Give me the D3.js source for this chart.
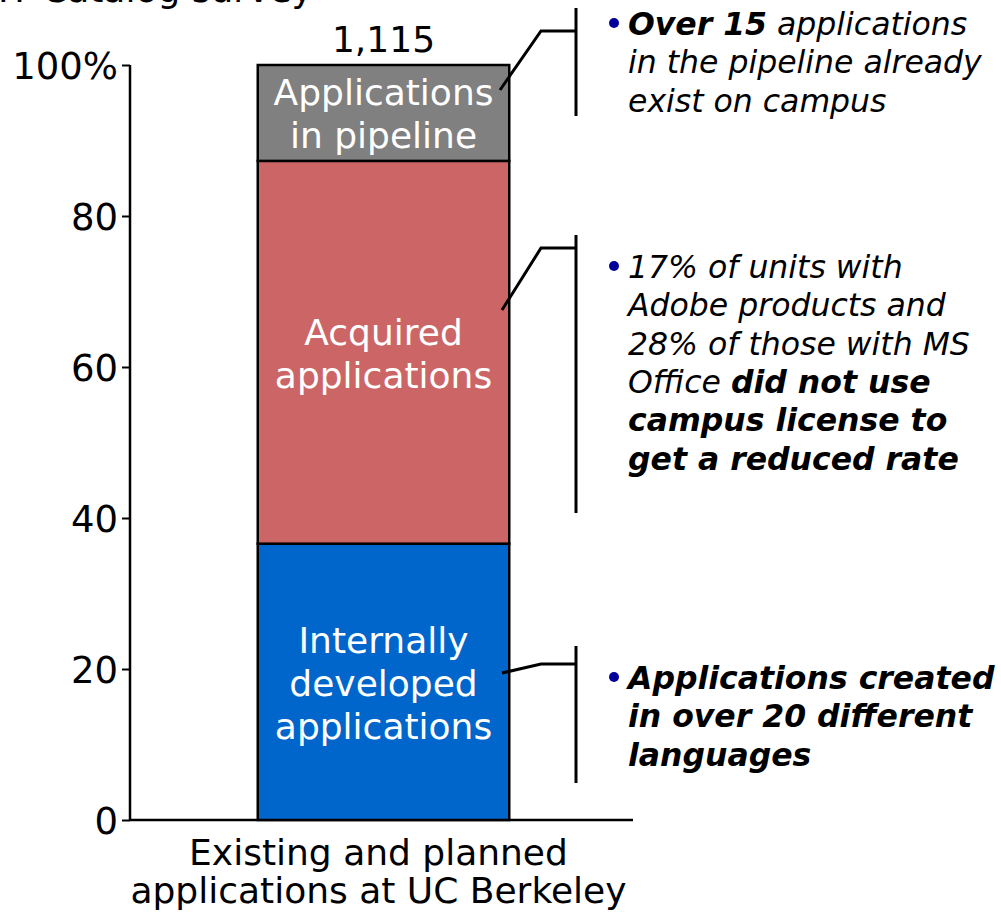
<!doctype html>
<html>
<head>
<meta charset="UTF-8">
<title>Applications at UC Berkeley</title>
<script src="https://d3js.org/d3.v7.min.js"></script>
<style>
  body { margin: 0; background: #fff; }
  text { font-family: "DejaVu Sans", Verdana, sans-serif; }
</style>
</head>
<body>
<script>
// data
var category = "Existing and planned applications at UC Berkeley";
var segNames = ["Internally developed applications", "Acquired applications", "Applications in pipeline"];
var segLines = [["Internally", "developed", "applications"], ["Acquired", "applications"], ["Applications", "in pipeline"]];
var shares = [36.6, 50.7, 12.7];
var segColors = ["#0066cc", "#cc6666", "#808080"];
var total = 1115;
var yTicks = [0, 20, 40, 60, 80, 100];
var source = "IT Catalog survey";

// callout notes, one per segment; [text, bold?]
var notes = [
  [[["Applications created", 1]], [["in over 20 different", 1]], [["languages", 1]]],
  [[["17% of units with", 0]], [["Adobe products and", 0]], [["28% of those with MS", 0]],
   [["Office ", 0], ["did not use", 1]], [["campus license to", 1]], [["get a reduced rate", 1]]],
  [[["Over 15", 1], [" applications", 0]], [["in the pipeline already", 0]], [["exist on campus", 0]]]
];

var W = 1001, H = 913;
var svg = d3.select("body").append("svg").attr("width", W).attr("height", H);

var y = d3.scaleLinear().domain([0, 100]).range([820, 65]);
var x = d3.scaleBand().domain([category]).range([132, 635]).paddingInner(0).paddingOuter(0.5);

// y axis
var yAxis = svg.append("g").attr("transform", "translate(130,0)")
  .call(d3.axisLeft(y).tickValues(yTicks).tickSize(8).tickPadding(4)
    .tickFormat(function(d){ return d == 100 ? "100%" : d; }));
yAxis.select(".domain").attr("stroke", "#000").attr("stroke-width", 2.5).attr("d", "M0," + y(100) + "V" + y(0));
yAxis.selectAll(".tick line").attr("stroke", "#000").attr("stroke-width", 2);
yAxis.selectAll(".tick text").attr("font-size", 37).attr("fill", "#000")
  .attr("font-family", "'DejaVu Sans Condensed', 'DejaVu Sans', sans-serif").attr("dy", "0.36em");

// x axis line
svg.append("line").attr("x1", 130).attr("x2", 633).attr("y1", y(0)).attr("y2", y(0))
  .attr("stroke", "#000").attr("stroke-width", 2.5);

// stacked bar
var stack = [];
var acc = 0;
shares.forEach(function(v, i){ stack.push({i: i, y0: acc, y1: acc + v}); acc += v; });

var bx = x(category), bw = x.bandwidth();
svg.selectAll("rect.seg").data(stack).enter().append("rect")
  .attr("class", "seg")
  .attr("x", bx).attr("width", bw)
  .attr("y", function(d){ return y(d.y1); })
  .attr("height", function(d){ return y(d.y0) - y(d.y1); })
  .attr("fill", function(d){ return segColors[d.i]; })
  .attr("stroke", "#000").attr("stroke-width", 2.5);

// segment labels
stack.forEach(function(d){
  var lines = segLines[d.i];
  var cy = (y(d.y0) + y(d.y1)) / 2;
  var lh = 43;
  var t = svg.append("text").attr("text-anchor", "middle").attr("fill", "#fff").attr("font-size", 36);
  lines.forEach(function(l, k){
    t.append("tspan").attr("x", bx + bw / 2)
      .attr("y", cy + (k - (lines.length - 1) / 2) * lh + 14).text(l);
  });
});

// total on top
svg.append("text").attr("x", bx + bw / 2).attr("y", y(100) - 13).attr("text-anchor", "middle")
  .attr("font-size", 36).text(d3.format(",")(total));

// source (cut at top)
svg.append("text").attr("x", -2).attr("y", 2).attr("font-size", 36).text(source);

// x category label
var xl = svg.append("text").attr("text-anchor", "middle").attr("font-size", 36)
  .attr("font-family", "'DejaVu Sans Condensed', 'DejaVu Sans', sans-serif");
xl.append("tspan").attr("x", bx + bw / 2 - 5).attr("y", 865).text("Existing and planned");
xl.append("tspan").attr("x", bx + bw / 2 - 5).attr("y", 903).text("applications at UC Berkeley");

// callouts
var brackets = [
  {top: 646, bot: 783, hy: 664, tip: [502, 673], ty: 689},
  {top: 235, bot: 513, hy: 248, tip: [502, 310], ty: 278},
  {top: 8, bot: 116, hy: 31, tip: [500, 90], ty: 35}
];
brackets.forEach(function(b, i){
  svg.append("line").attr("x1", 576).attr("x2", 576).attr("y1", b.top).attr("y2", b.bot)
    .attr("stroke", "#000").attr("stroke-width", 3);
  svg.append("path").attr("d", "M576," + b.hy + "H541L" + b.tip[0] + "," + b.tip[1])
    .attr("fill", "none").attr("stroke", "#000").attr("stroke-width", 3);
  svg.append("circle").attr("cx", 614).attr("cy", b.ty - 12).attr("r", 5).attr("fill", "#000099");
  var t = svg.append("text").attr("font-size", 31.5).attr("font-style", "italic");
  notes[i].forEach(function(line, k){
    var first = true;
    line.forEach(function(part){
      var ts = t.append("tspan").text(part[0]).attr("font-weight", part[1] ? "bold" : "normal");
      if (first) { ts.attr("x", 628).attr("y", b.ty + k * 38.3); first = false; }
    });
  });
});
</script>
</body>
</html>
